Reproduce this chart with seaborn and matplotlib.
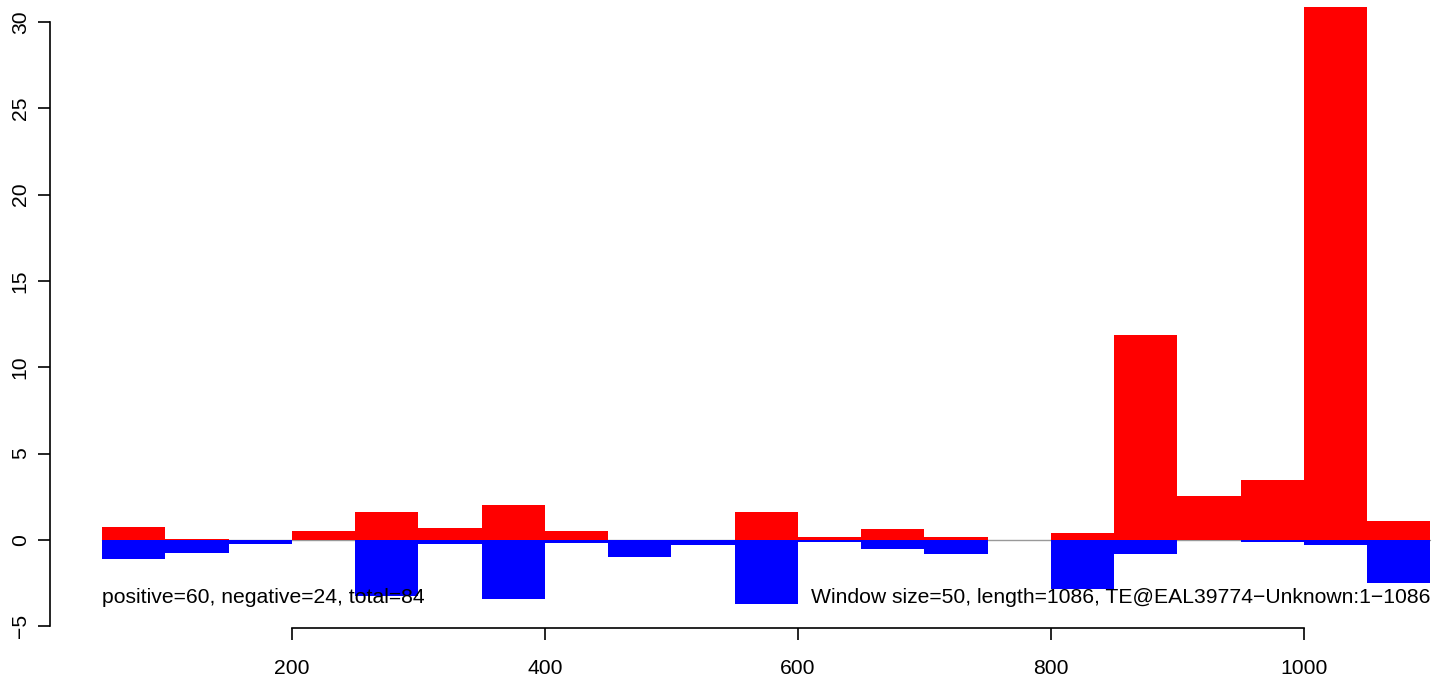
import matplotlib
matplotlib.use("Agg")
import matplotlib.pyplot as plt
import seaborn as sns
import pandas as pd

# ----------------------------
# Data
# ----------------------------
window_mid = [75, 125, 175, 225, 275, 325, 375, 425, 475, 525, 575,
              625, 675, 725, 775, 825, 875, 925, 975, 1025, 1075]
positive = [0.75, 0.05, 0.0, 0.5, 1.6, 0.7, 2.0, 0.5, 0.0, 0.0, 1.6,
            0.15, 0.65, 0.15, 0.0, 0.4, 11.85, 2.55, 3.5, 30.85, 1.1]
negative = [-1.1, -0.75, -0.25, 0.0, -3.25, -0.25, -3.4, -0.15, -1.0, -0.3, -3.7,
            -0.1, -0.5, -0.8, 0.0, -2.85, -0.8, 0.0, -0.1, -0.3, -2.5]
x_ticks = [200, 400, 600, 800, 1000]
y_ticks = [-5, 0, 5, 10, 15, 20, 25, 30]
left_note = "positive=60, negative=24, total=84"
right_note = "Window size=50, length=1086, TE@EAL39774\u2212Unknown:1\u22121086"

df = pd.DataFrame({"mid": window_mid, "pos": positive, "neg": negative})

# ----------------------------
# Plot
# ----------------------------
sns.set_style("ticks")
plt.rcParams['font.family'] = ['Liberation Sans', 'DejaVu Sans']
FS = 15.2

W, H = 1433, 676
fig = plt.figure(figsize=(W / 100, H / 100), dpi=100)
ax = fig.add_axes([50 / W, 1 - 628 / H, (W - 50) / W, 628 / H])

sns.barplot(data=df, x="mid", y="pos", native_scale=True, width=1.0,
            color="#ff0000", saturation=1, linewidth=0, ax=ax)
sns.barplot(data=df, x="mid", y="neg", native_scale=True, width=1.0,
            color="#0000ff", saturation=1, linewidth=0, ax=ax)

# baseline
ax.plot([50, 1100], [0, 0], color="#999999", lw=1, zorder=0.5)

ax.set_xlim(8.7, 1102)
ax.set_ylim(-5.1, 31.27)

ax.text(50, -3.35, left_note, ha="left", va="center", fontsize=FS, color="black")
ax.text(1100, -3.35, right_note, ha="right", va="center", fontsize=FS, color="black")

ax.set_xticks(x_ticks)
ax.set_yticks(y_ticks)
ax.set_yticklabels([f"{v}".replace("-", "\u2212") for v in y_ticks],
                   rotation=90, va="center")
ax.tick_params(axis="both", labelsize=FS, length=8.6, width=1.2,
               color="black", labelcolor="black")
ax.tick_params(axis="x", pad=14)
ax.tick_params(axis="y", pad=6)
ax.set_xlabel("")
ax.set_ylabel("")

for s in ["top", "right"]:
    ax.spines[s].set_visible(False)
ax.spines["left"].set_bounds(-5, 30)
ax.spines["bottom"].set_bounds(200, 1000)
for s in ["left", "bottom"]:
    ax.spines[s].set_linewidth(1.2)
    ax.spines[s].set_color("black")

fig.savefig("out.png", dpi=100)
